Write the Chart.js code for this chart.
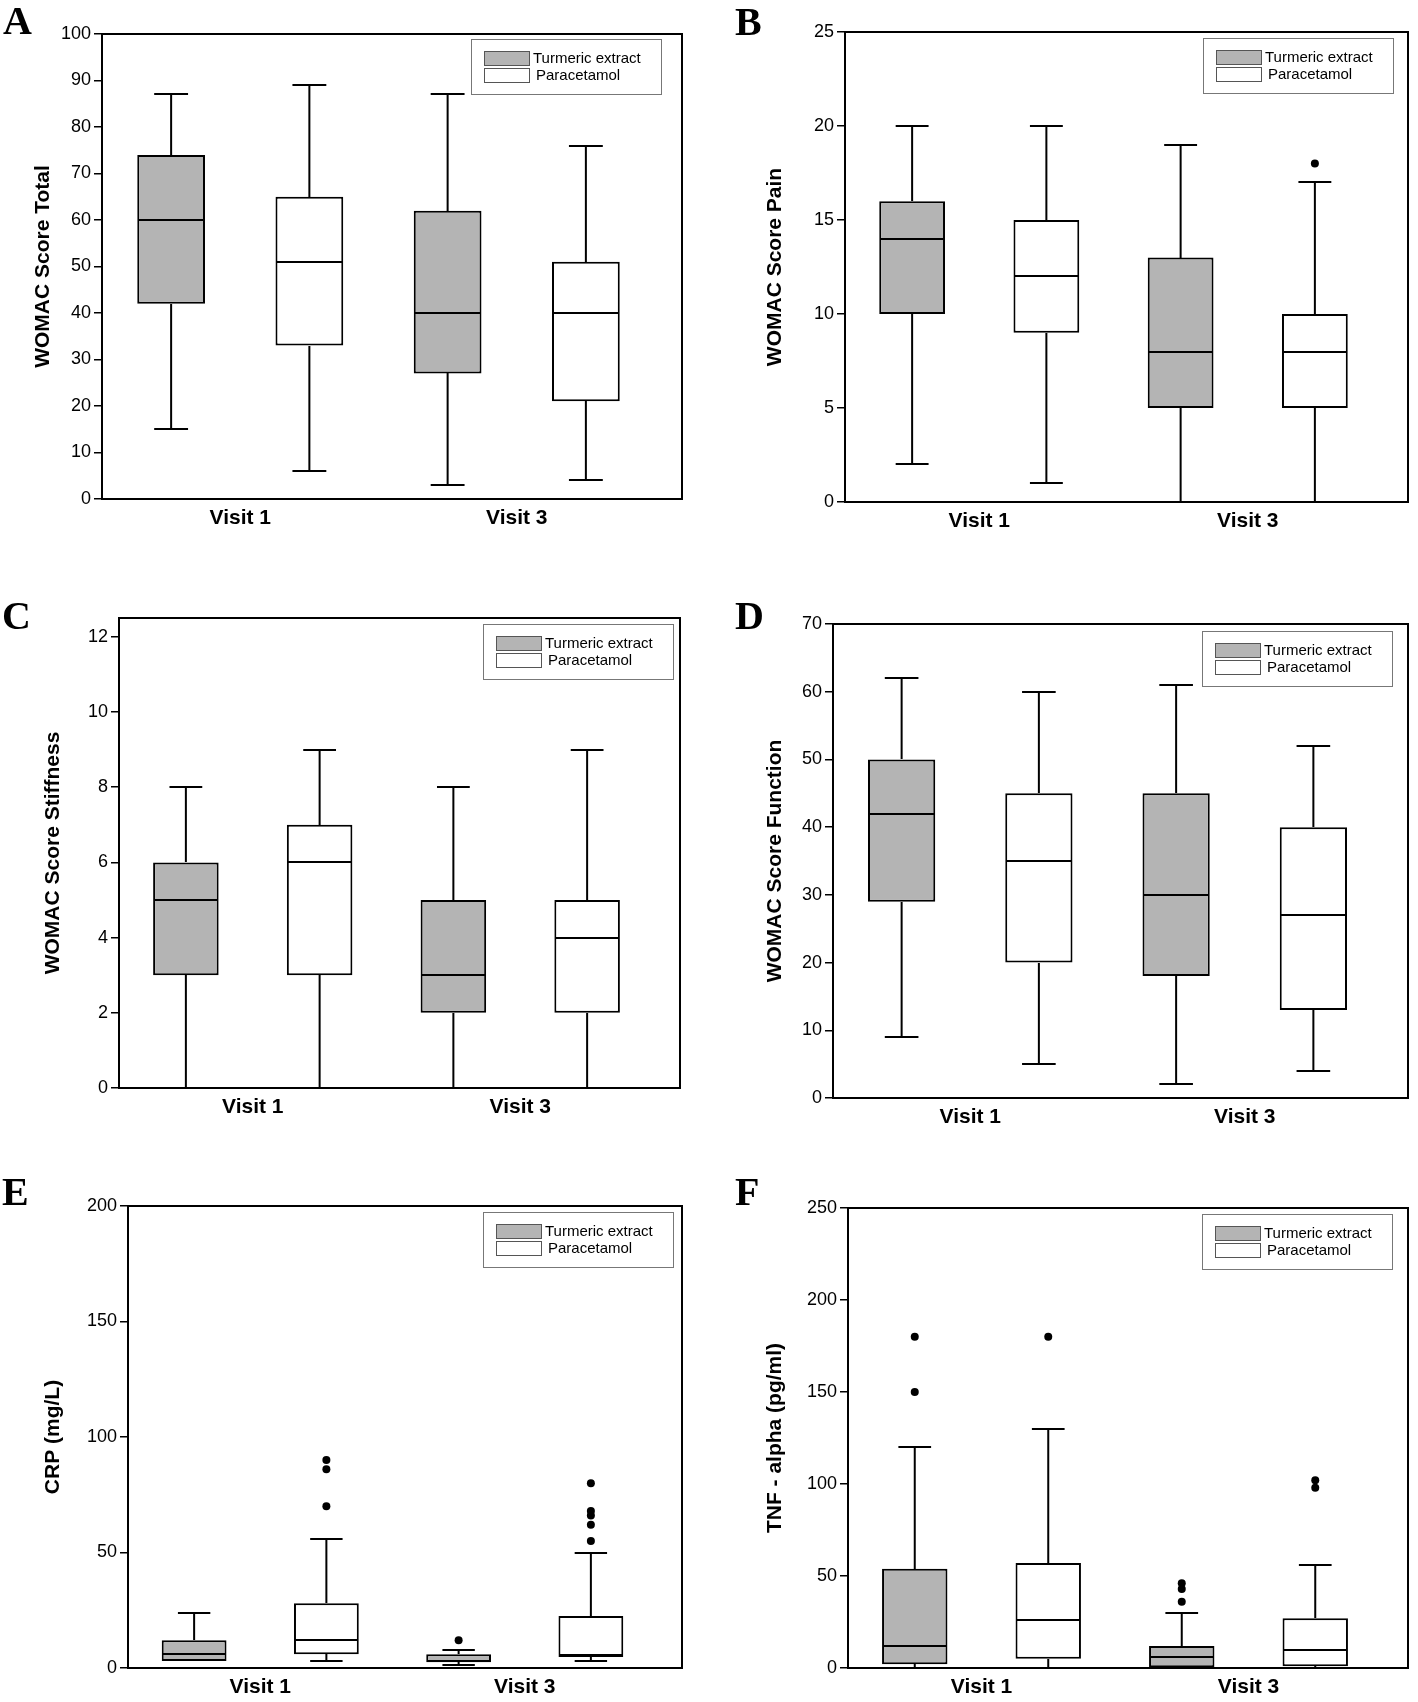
<!DOCTYPE html>
<html>
<head>
<meta charset="utf-8">
<script src="https://cdn.jsdelivr.net/npm/chart.js@4.4.0/dist/chart.umd.min.js"></script>
<style>
  body { margin: 0; background: #fff; width: 1418px; height: 1702px; position: relative; overflow: hidden; }
  canvas { position: absolute; }
  .letter { position: absolute; font-family: 'Liberation Serif', 'Times New Roman', serif; font-weight: bold; font-size: 40px; line-height: 1; color: #000; }
</style>
</head>
<body>
<script>
// categories and groups
const visits = ['Visit 1', 'Visit 3'];
const groups = ['Turmeric extract', 'Paracetamol'];

// box stats per visit: [min, q1, median, q3, max]
const totalTurmeric = [[15, 42, 60, 74, 87], [3, 27, 40, 62, 87]];
const totalParacetamol = [[6, 33, 51, 65, 89], [4, 21, 40, 51, 76]];

const painTurmeric = [[2, 10, 14, 16, 20], [0, 5, 8, 13, 19]];
const painParacetamol = [[1, 9, 12, 15, 20], [0, 5, 8, 10, 17]];
const painParacetamolOut = [[], [18]];

const stiffTurmeric = [[0, 3, 5, 6, 8], [0, 2, 3, 5, 8]];
const stiffParacetamol = [[0, 3, 6, 7, 9], [0, 2, 4, 5, 9]];

const functionTurmeric = [[9, 29, 42, 50, 62], [2, 18, 30, 45, 61]];
const functionParacetamol = [[5, 20, 35, 45, 60], [4, 13, 27, 40, 52]];

const crpTurmeric = [[3, 3, 6, 12, 24], [1.5, 2.5, 3, 6, 8]];
const crpTurmericOut = [[], [12]];
const crpParacetamol = [[3, 6, 12, 28, 56], [3, 4.8, 5.5, 22.5, 50]];
const crpParacetamolOut = [[90, 86, 70], [80, 68, 66, 62, 55]];

const tnfTurmeric = [[0, 2, 12, 54, 120], [0, 0, 6, 12, 30]];
const tnfTurmericOut = [[180, 150], [46, 43, 36]];
const tnfParacetamol = [[0, 5, 26, 57, 130], [0, 1, 10, 27, 56]];
const tnfParacetamolOut = [[180], [102, 98]];

// axis settings
const yMax = [100, 25, 12.5, 70, 200, 250];
const yStep = [10, 5, 2, 10, 50, 50];

// page layout: canvas box, plot frame, title x, legend inset, letter position
const panels = [
  { letter: 'A', title: 'WOMAC Score Total', t: totalTurmeric, p: totalParacetamol, tOut: null, pOut: null,
    box: [0, 0, 709, 560], frame: [102, 34, 682, 499], titleX: 43, legendInset: [21, 5], letterPos: [3, 1] },
  { letter: 'B', title: 'WOMAC Score Pain', t: painTurmeric, p: painParacetamol, tOut: null, pOut: painParacetamolOut,
    box: [709, 0, 709, 560], frame: [845, 32, 1408, 502], titleX: 66, legendInset: [15, 6], letterPos: [735, 2] },
  { letter: 'C', title: 'WOMAC Score Stiffness', t: stiffTurmeric, p: stiffParacetamol, tOut: null, pOut: null,
    box: [0, 560, 709, 580], frame: [119, 618, 680, 1088], titleX: 53, legendInset: [7, 6], letterPos: [2, 596] },
  { letter: 'D', title: 'WOMAC Score Function', t: functionTurmeric, p: functionParacetamol, tOut: null, pOut: null,
    box: [709, 560, 709, 580], frame: [833, 624, 1408, 1098], titleX: 66, legendInset: [16, 7], letterPos: [735, 596] },
  { letter: 'E', title: 'CRP (mg/L)', t: crpTurmeric, p: crpParacetamol, tOut: crpTurmericOut, pOut: crpParacetamolOut,
    box: [0, 1140, 709, 562], frame: [128, 1206, 682, 1668], titleX: 53, legendInset: [9, 6], letterPos: [2, 1172] },
  { letter: 'F', title: 'TNF - alpha (pg/ml)', t: tnfTurmeric, p: tnfParacetamol, tOut: tnfTurmericOut, pOut: tnfParacetamolOut,
    box: [709, 1140, 709, 562], frame: [848, 1208, 1408, 1668], titleX: 66, legendInset: [16, 6], letterPos: [735, 1172] }
];

const GRAY = '#b4b4b4';

Chart.defaults.font.family = "'Liberation Sans', Arial, sans-serif";
Chart.defaults.color = '#000';

// whiskers, medians, outliers, frame and legend
const boxPlugin = {
  id: 'boxplot',
  afterDatasetsDraw(chart) {
    const ctx = chart.ctx;
    const y = chart.scales.y;
    const py = v => Math.round(y.getPixelForValue(v));
    ctx.save();
    ctx.strokeStyle = '#000';
    ctx.fillStyle = '#000';
    ctx.lineWidth = 2;
    chart.data.datasets.forEach((ds, i) => {
      const meta = chart.getDatasetMeta(i);
      meta.data.forEach((bar, j) => {
        const s = ds.stats[j];
        const { x, width } = bar.getProps(['x', 'width'], true);
        const half = width / 2;
        const cap = width / 4;
        ctx.beginPath();
        ctx.moveTo(x, py(s[3])); ctx.lineTo(x, py(s[4]));
        ctx.moveTo(x - cap, py(s[4])); ctx.lineTo(x + cap, py(s[4]));
        if (s[0] < s[1]) {
          ctx.moveTo(x, py(s[1])); ctx.lineTo(x, py(s[0]));
          ctx.moveTo(x - cap, py(s[0])); ctx.lineTo(x + cap, py(s[0]));
        }
        ctx.moveTo(x - half + 1, py(s[2])); ctx.lineTo(x + half - 1, py(s[2]));
        ctx.stroke();
        const outs = ds.outliers ? ds.outliers[j] : [];
        outs.forEach(v => {
          ctx.beginPath();
          ctx.arc(x, y.getPixelForValue(v), 4, 0, Math.PI * 2);
          ctx.fill();
        });
      });
    });
    ctx.restore();
  },
  afterDraw(chart, args, opts) {
    const ctx = chart.ctx;
    const a = chart.chartArea;
    const fr = opts.frameRight;
    ctx.save();
    ctx.strokeStyle = '#000';
    ctx.lineWidth = 2;
    ctx.strokeRect(a.left, a.top, fr - a.left, a.bottom - a.top);

    // legend box
    const lw = 190, lh = 55;
    const lx = Math.round(fr - opts.legendInset[0] - lw);
    const ly = Math.round(a.top + opts.legendInset[1]);
    ctx.lineWidth = 1;
    ctx.strokeStyle = '#777';
    ctx.fillStyle = '#fff';
    ctx.fillRect(lx, ly, lw, lh);
    ctx.strokeRect(lx + 0.5, ly + 0.5, lw, lh);
    const fills = [GRAY, '#fff'];
    ctx.font = "15px 'Liberation Sans', Arial, sans-serif";
    ctx.textBaseline = 'middle';
    groups.forEach((g, k) => {
      const sy = ly + 12 + k * 17;
      ctx.fillStyle = fills[k];
      ctx.fillRect(lx + 13, sy, 45, 14);
      ctx.strokeStyle = '#555';
      ctx.strokeRect(lx + 13.5, sy + 0.5, 45, 14);
      ctx.fillStyle = '#000';
      ctx.fillText(g, lx + 62 + k * 3, sy + 8);
    });
    ctx.restore();
  }
};

panels.forEach((pn, idx) => {
  const [bx, by, bw, bh] = pn.box;
  const fl = pn.frame[0] - bx, ft = pn.frame[1] - by, fr = pn.frame[2] - bx, fb = pn.frame[3] - by;
  const scaleRight = Math.round(fl + (fr - fl) * 0.954);

  const canvas = document.createElement('canvas');
  canvas.width = bw;
  canvas.height = bh;
  canvas.style.left = bx + 'px';
  canvas.style.top = by + 'px';
  document.body.appendChild(canvas);

  const letter = document.createElement('div');
  letter.className = 'letter';
  letter.textContent = pn.letter;
  letter.style.left = pn.letterPos[0] + 'px';
  letter.style.top = pn.letterPos[1] + 'px';
  document.body.appendChild(letter);

  new Chart(canvas, {
    type: 'bar',
    data: {
      labels: visits,
      datasets: [
        { label: groups[0], data: pn.t.map(s => [s[1], s[3]]), stats: pn.t, outliers: pn.tOut,
          backgroundColor: GRAY, borderColor: '#000', borderWidth: 2, borderSkipped: false },
        { label: groups[1], data: pn.p.map(s => [s[1], s[3]]), stats: pn.p, outliers: pn.pOut,
          backgroundColor: '#fff', borderColor: '#000', borderWidth: 2, borderSkipped: false }
      ]
    },
    options: {
      responsive: false,
      animation: false,
      devicePixelRatio: 1,
      categoryPercentage: 1,
      barPercentage: 0.49,
      layout: { padding: { left: 0, top: ft, right: bw - scaleRight, bottom: 0 } },
      plugins: {
        legend: { display: false },
        tooltip: { enabled: false },
        boxplot: { frameRight: fr, legendInset: pn.legendInset }
      },
      scales: {
        x: {
          type: 'category',
          grid: { display: false, drawTicks: false },
          border: { display: false },
          ticks: { font: { size: 21, weight: 'bold' }, padding: 7, color: '#000' },
          afterFit: s => { s.height = bh - fb; }
        },
        y: {
          min: 0,
          max: yMax[idx],
          grid: { drawOnChartArea: false, drawTicks: true, tickLength: 8, color: '#000', lineWidth: 1.5 },
          border: { display: false },
          ticks: { stepSize: yStep[idx], includeBounds: false, font: { size: 18 }, padding: 3, color: '#000' },
          title: {
            display: true,
            text: pn.title,
            font: { size: 21, weight: 'bold' },
            color: '#000',
            padding: { top: pn.titleX - 12.6, bottom: 0 }
          },
          afterFit: s => { s.width = fl; }
        }
      }
    },
    plugins: [boxPlugin]
  });
});
</script>
</body>
</html>
